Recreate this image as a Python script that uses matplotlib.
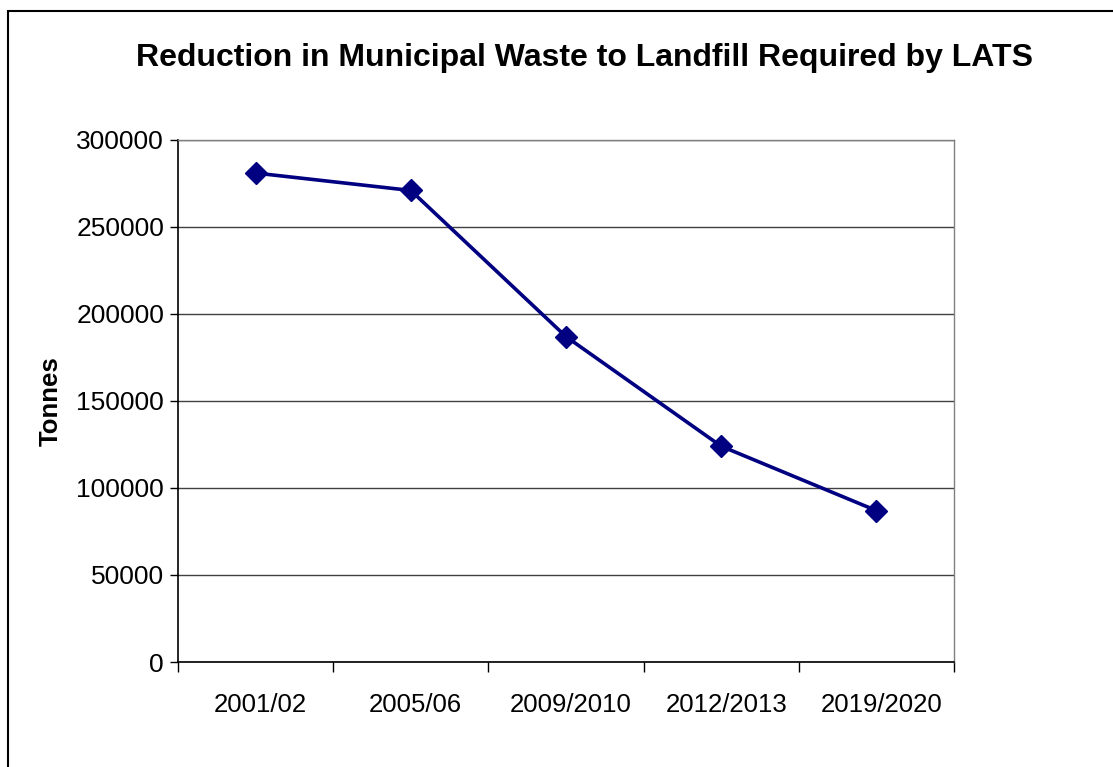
import matplotlib
matplotlib.use("Agg")
import matplotlib.pyplot as plt
from matplotlib.patches import Rectangle
from matplotlib.ticker import FixedLocator
from matplotlib.transforms import ScaledTranslation

categories = ["2001/02", "2005/06", "2009/2010", "2012/2013", "2019/2020"]
tonnes = [281000, 271000, 187000, 124000, 87000]
yticks = [0, 50000, 100000, 150000, 200000, 250000, 300000]

plt.rcParams['font.family'] = ['Liberation Sans', 'DejaVu Sans']

fig = plt.figure(figsize=(11.13, 7.67), dpi=100)
ax = fig.add_axes([178/1113, 1 - 662/767, (954-178)/1113, (662-140)/767])

x = list(range(len(categories)))
ax.plot(x, tonnes, color='#000080', linewidth=2.6, marker='D', markersize=11,
        markerfacecolor='#000080', markeredgecolor='#000080', zorder=3)

ax.set_xlim(-0.5, len(categories) - 0.5)
ax.set_ylim(0, 300000)
ax.set_yticks(yticks)
ax.set_yticklabels([str(v) for v in yticks], fontsize=19)
ax.yaxis.grid(True, color='#404040', linewidth=1)
ax.set_axisbelow(True)

ax.set_xticks(x)
ax.set_xticklabels(categories, fontsize=18.5)
ax.tick_params(axis='x', which='major', length=0, pad=22)
ax.xaxis.set_minor_locator(FixedLocator([i - 0.5 for i in range(len(categories) + 1)]))
ax.tick_params(axis='x', which='minor', length=7, width=1, direction='out', color='black')
ax.tick_params(axis='y', length=6, width=1, direction='out', pad=4)
offset = ScaledTranslation(5/100, 0, fig.dpi_scale_trans)
for lbl in ax.get_xticklabels():
    lbl.set_transform(lbl.get_transform() + offset)

for s in ['top', 'right']:
    ax.spines[s].set_color('#808080')
    ax.spines[s].set_linewidth(1)
for s in ['left', 'bottom']:
    ax.spines[s].set_color('black')
    ax.spines[s].set_linewidth(1.2)

ax.set_ylabel("Tonnes", fontsize=18.5, fontweight='bold', labelpad=10)

fig.text(0.525, 1 - 58/767, "Reduction in Municipal Waste to Landfill Required by LATS",
         ha='center', va='center', fontsize=23, fontweight='bold')

fig.patches.append(Rectangle((8/1113, -0.1), 1.2, 1 - 11/767 + 0.1,
                             transform=fig.transFigure, fill=False,
                             edgecolor='black', linewidth=1.5))

fig.savefig("out.png", dpi=100)
